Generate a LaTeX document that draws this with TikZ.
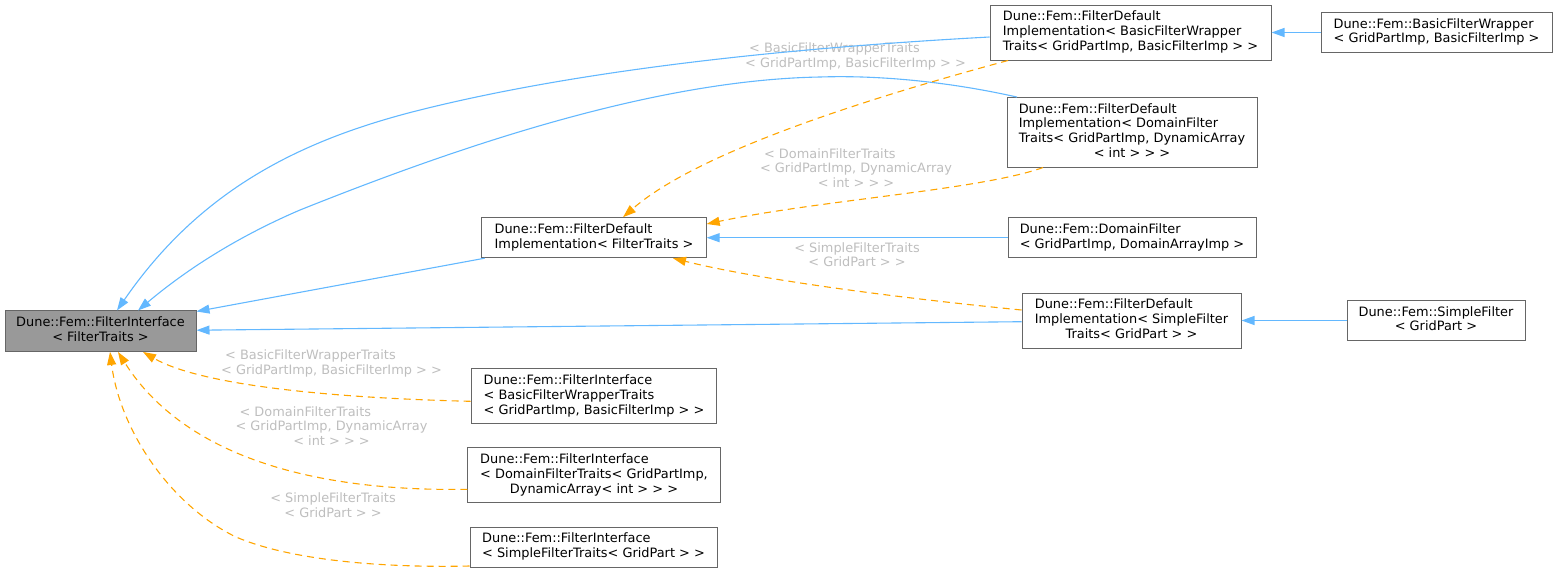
\documentclass[tikz,border=0pt]{standalone}
\usepackage{fontspec}
\setmainfont{DejaVu Sans}
\usetikzlibrary{arrows.meta}
\definecolor{edgeblue}{HTML}{63B8FF}
\definecolor{edgeorange}{HTML}{FFA500}
\definecolor{boxborder}{HTML}{666666}
\definecolor{boxfill}{HTML}{999999}
\definecolor{lblgray}{HTML}{BEBEBE}
\newcommand\dfont{\fontsize{12.9}{14.8}\selectfont}
\tikzset{
  cls/.style={draw=boxborder, line width=1pt, fill=white, inner sep=0pt, font=\dfont, text=black, anchor=center},
  basecls/.style={cls, fill=boxfill},
  pub/.style={draw=edgeblue, line width=1.1pt, -{Triangle[length=13pt,width=9pt]}},
  tmpl/.style={draw=edgeorange, line width=1.1pt, dash pattern=on 7pt off 5pt, -{Triangle[length=13pt,width=9pt]}},
  lbl/.style={font=\dfont, text=lblgray, inner sep=0pt, anchor=center}
}
\begin{document}
\begin{tikzpicture}[x=1pt,y=-1pt]
\useasboundingbox (0,0) rectangle (1557,574);

% nodes
\node[basecls, minimum width=191pt, minimum height=40.5pt] (FI) at (100.5,331.2)
  {\begin{tabular}{@{}c@{}}Dune::Fem::FilterInterface\\< FilterTraits >\end{tabular}};
\node[cls, minimum width=281pt, minimum height=55pt] (FDB) at (1130.5,32.5)
  {\begin{tabular}{@{}l@{}}Dune::Fem::FilterDefault\\Implementation< BasicFilterWrapper\\Traits< GridPartImp, BasicFilterImp > >\end{tabular}};
\node[cls, minimum width=231pt, minimum height=40pt] (BFW) at (1436.5,32.5)
  {\begin{tabular}{@{}l@{}}Dune::Fem::BasicFilterWrapper\\< GridPartImp, BasicFilterImp >\end{tabular}};
\node[cls, minimum width=250pt, minimum height=69.5pt] (FDD) at (1132,132.3)
  {\begin{tabular}{@{}l@{}}Dune::Fem::FilterDefault\\Implementation< DomainFilter\\Traits< GridPartImp, DynamicArray\\\multicolumn{1}{@{}c@{}}{< int > > >}\end{tabular}};
\node[cls, minimum width=224.3pt, minimum height=40pt] (FDF) at (594,237.7)
  {\begin{tabular}{@{}l@{}}Dune::Fem::FilterDefault\\Implementation< FilterTraits >\end{tabular}};
\node[cls, minimum width=248pt, minimum height=40pt] (DF) at (1132,237.7)
  {\begin{tabular}{@{}l@{}}Dune::Fem::DomainFilter\\< GridPartImp, DomainArrayImp >\end{tabular}};
\node[cls, minimum width=219pt, minimum height=55pt] (FDS) at (1131.5,320.5)
  {\begin{tabular}{@{}l@{}}Dune::Fem::FilterDefault\\Implementation< SimpleFilter\\\multicolumn{1}{@{}c@{}}{Traits< GridPart > >}\end{tabular}};
\node[cls, minimum width=178pt, minimum height=40pt] (SF) at (1436,320.5)
  {\begin{tabular}{@{}c@{}}Dune::Fem::SimpleFilter\\< GridPart >\end{tabular}};
\node[cls, minimum width=245.7pt, minimum height=54.7pt] (FIB) at (594,396.3)
  {\begin{tabular}{@{}l@{}}Dune::Fem::FilterInterface\\< BasicFilterWrapperTraits\\< GridPartImp, BasicFilterImp > >\end{tabular}};
\node[cls, minimum width=252.3pt, minimum height=54.7pt] (FID) at (594,475.3)
  {\begin{tabular}{@{}l@{}}Dune::Fem::FilterInterface\\< DomainFilterTraits< GridPartImp,\\\multicolumn{1}{@{}c@{}}{DynamicArray< int > > >}\end{tabular}};
\node[cls, minimum width=247pt, minimum height=40pt] (FIS) at (593.5,547)
  {\begin{tabular}{@{}l@{}}Dune::Fem::FilterInterface\\< SimpleFilterTraits< GridPart > >\end{tabular}};

% edge labels
\node[lbl] (L8) at (855.5,57)
  {\begin{tabular}{@{}l@{}}\hspace{4pt}< BasicFilterWrapperTraits\\< GridPartImp, BasicFilterImp > >\end{tabular}};
\node[lbl] (L9) at (856,170)
  {\begin{tabular}{@{}l@{}}\hspace{4pt}< DomainFilterTraits\\< GridPartImp, DynamicArray\\\multicolumn{1}{@{}c@{}}{< int > > >}\end{tabular}};
\node[lbl] (L10) at (857,256.5)
  {\begin{tabular}{@{}c@{}}< SimpleFilterTraits\\< GridPart > >\end{tabular}};
\node[lbl] (L11) at (331.5,363.7)
  {\begin{tabular}{@{}l@{}}\hspace{4pt}< BasicFilterWrapperTraits\\< GridPartImp, BasicFilterImp > >\end{tabular}};
\node[lbl] (L12) at (331.5,428)
  {\begin{tabular}{@{}l@{}}\hspace{4pt}< DomainFilterTraits\\< GridPartImp, DynamicArray\\\multicolumn{1}{@{}c@{}}{< int > > >}\end{tabular}};
\node[lbl] (L13) at (333,507.3)
  {\begin{tabular}{@{}c@{}}< SimpleFilterTraits\\< GridPart > >\end{tabular}};

% public inheritance (blue)
\draw[pub] ([yshift=-4.5pt]FDB.west) .. controls (750,50) and (560,75) .. (420,110)
  .. controls (300,140) and (200,190) .. ([xshift=16.5pt]FI.north);
\draw[pub] ([xshift=-115pt]FDD.north) .. controls (950,82) and (880,75) .. (820,77)
  .. controls (650,80) and (450,150) .. (300,210)
  .. controls (230,240) and (180,275) .. ([xshift=37.5pt]FI.north);
\draw[pub] ([xshift=3.3pt]FDF.south west) -- ([yshift=-1pt]FI.north east);
\draw[pub] ([yshift=-1.2pt]FDS.west) -- ([yshift=1pt]FI.east);
\draw[pub] (BFW.west) -- (FDB.east);
\draw[pub] (DF.west) -- (FDF.east);
\draw[pub] (SF.west) -- (FDS.east);

% template instantiation (orange dashed)
\draw[tmpl] ([xshift=-122.5pt]FDB.south) .. controls (880,95) and (700,150) .. ([xshift=29pt]FDF.north);
\draw[tmpl] ([xshift=-89pt]FDD.south) .. controls (980,190) and (820,200) .. ([yshift=13.7pt]FDF.east);
\draw[tmpl] ([yshift=10.5pt]FDS.west) .. controls (900,298) and (760,280) .. ([xshift=79pt]FDF.south);
\draw[tmpl] ([yshift=-5pt]FIB.west) .. controls (330,398) and (200,385) .. ([xshift=42.5pt]FI.south);
\draw[tmpl] ([yshift=-14pt]FID.west) .. controls (300,492) and (180,450) .. ([xshift=17.5pt]FI.south);
\draw[tmpl] ([yshift=-19pt]FIS.west) .. controls (380,568) and (290,560) .. (236,537)
  .. controls (170,505) and (120,430) .. ([xshift=9.5pt]FI.south);
\end{tikzpicture}
\end{document}
